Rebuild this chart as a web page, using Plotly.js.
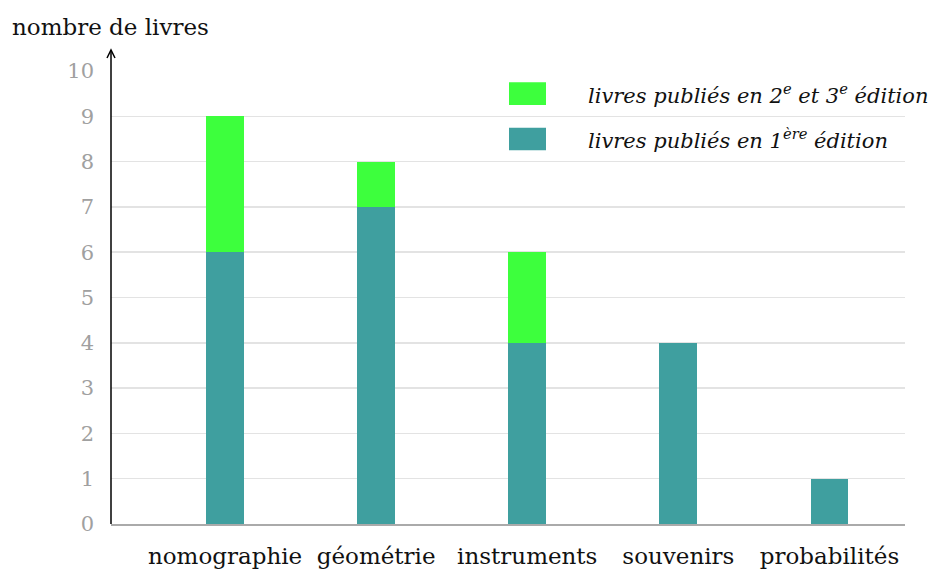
<!DOCTYPE html>
<html><head><meta charset="utf-8">
<script src="https://cdn.plot.ly/plotly-3.0.1.min.js"></script>
<style>html,body{margin:0;padding:0;background:#fff}</style>
</head><body>
<div id="chart" style="width:935px;height:569px"></div>
<script>
const categories = ["nomographie", "géométrie", "instruments", "souvenirs", "probabilités"];
const firstEdition = [6, 7, 4, 4, 1];
const laterEditions = [3, 1, 2, 0, 0];
const seriesNames = ["livres publiés en 1<sup>ère</sup> édition", "livres publiés en 2<sup>e</sup> et 3<sup>e</sup> édition"];
const seriesColors = ["#3f9f9f", "#3dff3d"];
const yTicks = [0,1,2,3,4,5,6,7,8,9,10];
const yTitle = "nombre de livres";

const FONT = "DejaVu Serif, Liberation Serif, serif";

const traces = [
  {type:"bar", x:categories, y:firstEdition, name:seriesNames[0], marker:{color:seriesColors[0], line:{width:0}}, width:0.25, showlegend:false},
  {type:"bar", x:categories, y:laterEditions, name:seriesNames[1], marker:{color:seriesColors[1], line:{width:0}}, width:0.25, showlegend:false}
];

const legendShapes = [];
const legendAnn = [];
const legendRows = [{i:1, y:9.5}, {i:0, y:8.5}];
legendRows.forEach(r => {
  legendShapes.push({type:"rect", xref:"paper", yref:"y", x0:(509-111)/794, x1:(546-111)/794, y0:r.y-0.25, y1:r.y+0.25, fillcolor:seriesColors[r.i], line:{width:0}});
  legendAnn.push({xref:"paper", yref:"y", x:(586-111)/794, y:r.y, xanchor:"left", yanchor:"middle", showarrow:false, text:"<i>"+seriesNames[r.i]+"</i>", font:{family:FONT, size:21, color:"#111"}});
});

const layout = {
  width:935, height:569,
  margin:{l:111, r:30, t:71, b:45},
  paper_bgcolor:"#fff", plot_bgcolor:"#fff",
  barmode:"stack",
  bargap:0,
  showlegend:false,
  xaxis:{
    type:"category", range:[-0.755, 4.5],
    showgrid:false, zeroline:false,
    showline:true, linecolor:"#aaaaaa", linewidth:1.5,
    ticks:"", ticklabelstandoff:11,
    tickfont:{family:FONT, size:23, color:"#111"}
  },
  yaxis:{
    range:[0,10], tickvals:yTicks, ticktext:yTicks.map(String),
    showgrid:true, gridcolor:"#e3e3e3", gridwidth:1.5,
    zeroline:false, showline:false,
    ticks:"", ticklabelstandoff:16,
    tickfont:{family:FONT, size:21, color:"#a0a0a0"}
  },
  shapes: legendShapes.concat([
    {type:"path", xref:"paper", yref:"paper", xsizemode:"pixel", ysizemode:"pixel", xanchor:0, yanchor:0,
     path:"M 0,0 L 0,474", line:{color:"#000", width:1.5}},
    {type:"path", xref:"paper", yref:"paper", xsizemode:"pixel", ysizemode:"pixel", xanchor:0, yanchor:1,
     path:"M -4,13 L 0,21 L 4,13", line:{color:"#000", width:1.5}}
  ]),
  annotations: legendAnn.concat([
    {xref:"paper", yref:"paper", x:-101/794, y:1+(71-27)/453, xanchor:"left", yanchor:"middle", showarrow:false, text:yTitle, font:{family:FONT, size:23, color:"#111"}}
  ])
};

Plotly.newPlot("chart", traces, layout, {displayModeBar:false, staticPlot:true});
</script>
</body></html>
